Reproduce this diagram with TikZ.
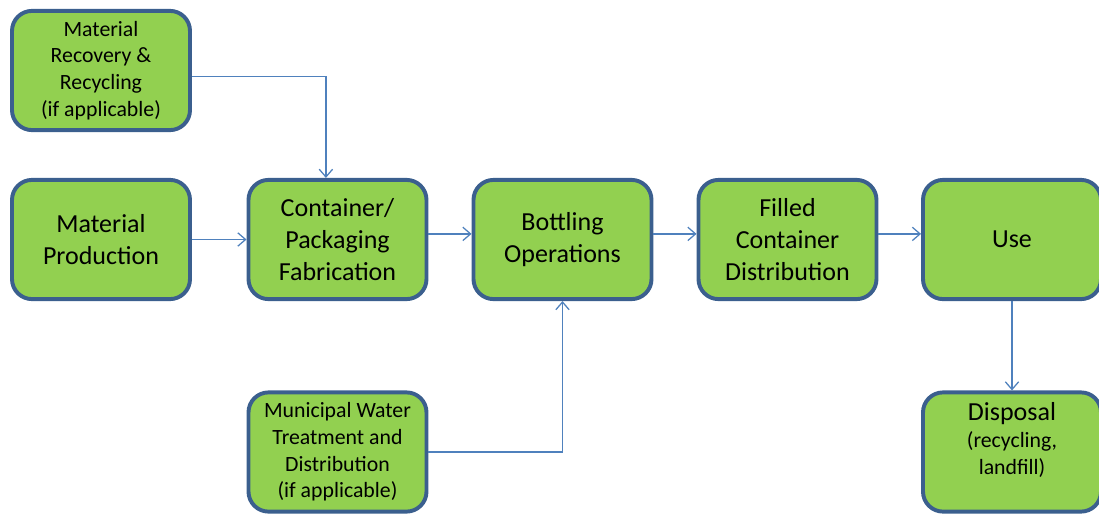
\documentclass[tikz,border=0pt]{standalone}
\usepackage{fontspec}
\setmainfont{Carlito}
\usetikzlibrary{arrows.meta}
\definecolor{boxgreen}{HTML}{92D050}
\definecolor{boxblue}{HTML}{3B5F8E}
\definecolor{linkblue}{HTML}{4F81BD}
\newcommand{\bigtxt}{\fontsize{18.5}{22.5}\selectfont}
\newcommand{\smalltxt}{\fontsize{15.5}{19}\selectfont}

\begin{document}
\begin{tikzpicture}[
    stage/.style={draw=boxblue,line width=2.8pt,fill=boxgreen,rounded corners=0.5cm,
      minimum width=4.45cm,minimum height=2.98cm,align=center,text=black,inner sep=2pt},
    link/.style={draw=linkblue,line width=0.9pt,-{Straight Barb[length=5.5pt,width=9.5pt]}}]
  \useasboundingbox (0,0) rectangle (27.475,-12.875);

  % Upper row
  \node[stage,font=\smalltxt] (recovery) at (2.525,-1.7625) {Material\\Recovery \&\\Recycling\\(if applicable)};

  % Main row
  \node[stage,font=\bigtxt] (production) at (2.525,-5.9875) {Material\\Production};
  \node[stage,font=\bigtxt] (container) at (8.4375,-5.9875) {Container/\\Packaging\\Fabrication};
  \node[stage,font=\bigtxt] (bottling) at (14.0625,-5.9875) {Bottling\\Operations};
  \node[stage,font=\bigtxt] (filled) at (19.6875,-5.9875) {Filled\\Container\\Distribution};
  \node[stage,font=\bigtxt] (use) at (25.3,-5.9875) {Use};

  % Lower row
  \node[stage,font=\smalltxt] (water) at (8.4375,-11.3) {Municipal Water\\Treatment and\\Distribution\\(if applicable)};
  \node[stage,font=\smalltxt] (disposal) at (25.3,-11.3) {{\bigtxt Disposal}\\(recycling,\\landfill)\\[0pt]};

  % Flows
  \draw[link] ([yshift=-0.15cm]recovery.east) -| ([xshift=-0.29cm]container.north);
  \draw[link] (production) -- (container);
  \draw[link] ([yshift=0.14cm]container.east) -- ([yshift=0.14cm]bottling.west);
  \draw[link] ([yshift=0.14cm]bottling.east) -- ([yshift=0.14cm]filled.west);
  \draw[link] ([yshift=0.14cm]filled.east) -- ([yshift=0.14cm]use.west);
  \draw[link] (water.east) -| (bottling.south);
  \draw[link] (use) -- (disposal);

\end{tikzpicture}
\end{document}
